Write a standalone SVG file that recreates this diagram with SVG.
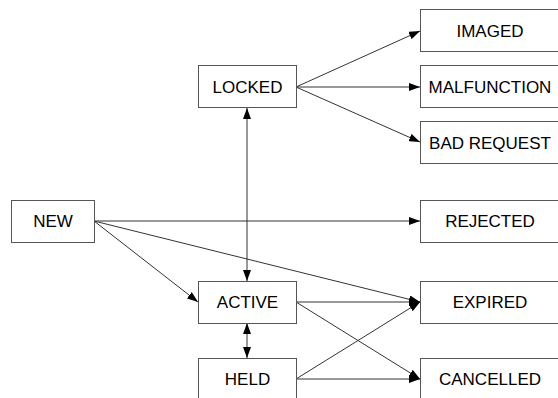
<svg xmlns="http://www.w3.org/2000/svg" width="558" height="398" viewBox="0 0 558 398">
<defs>
<marker id="ah" viewBox="0 0 11 8" refX="11" refY="4" markerWidth="11" markerHeight="8" markerUnits="userSpaceOnUse" orient="auto-start-reverse">
<path d="M0,0 L11,4 L0,8 Z" fill="#000"/>
</marker>
<style>
.box{fill:#fff;stroke:#555;stroke-width:1}
.lbl{font-family:"Liberation Sans",Arial,sans-serif;font-size:17px;fill:#000;text-anchor:middle}
.c{stroke:#333;stroke-width:1;fill:none;marker-end:url(#ah)}
.b{marker-start:url(#ah)}
</style>
</defs>
<rect width="558" height="398" fill="#fff"/>
<g id="connectors">
<line class="c" x1="296" y1="87" x2="420" y2="31"/>
<line class="c" x1="296" y1="87" x2="420" y2="87"/>
<line class="c" x1="296" y1="87" x2="420" y2="142"/>
<line class="c b" x1="247" y1="108" x2="247" y2="281"/>
<line class="c" x1="94" y1="221" x2="420" y2="221"/>
<line class="c" x1="94" y1="221" x2="198" y2="302"/>
<line class="c" x1="94" y1="221" x2="420" y2="302"/>
<line class="c" x1="296" y1="302" x2="420" y2="302"/>
<line class="c" x1="296" y1="302" x2="420" y2="379"/>
<line class="c b" x1="247" y1="323" x2="247" y2="358"/>
<line class="c" x1="296" y1="379" x2="420" y2="302"/>
<line class="c" x1="296" y1="379" x2="420" y2="379"/>
</g>
<g id="LOCKED"><rect class="box" x="198.5" y="65.5" width="98" height="42"/><text class="lbl" x="247.5" y="93">LOCKED</text></g>
<g id="IMAGED"><rect class="box" x="420.5" y="9.5" width="140" height="42"/><text class="lbl" x="490" y="37">IMAGED</text></g>
<g id="MALFUNCTION"><rect class="box" x="420.5" y="65.5" width="140" height="42"/><text class="lbl" x="490" y="93">MALFUNCTION</text></g>
<g id="BAD_REQUEST"><rect class="box" x="420.5" y="121.5" width="140" height="42"/><text class="lbl" x="490" y="149">BAD REQUEST</text></g>
<g id="NEW"><rect class="box" x="11.5" y="200.5" width="83" height="42"/><text class="lbl" x="53" y="227">NEW</text></g>
<g id="REJECTED"><rect class="box" x="420.5" y="200.5" width="140" height="42"/><text class="lbl" x="490" y="227">REJECTED</text></g>
<g id="ACTIVE"><rect class="box" x="198.5" y="281.5" width="98" height="42"/><text class="lbl" x="247.5" y="308">ACTIVE</text></g>
<g id="EXPIRED"><rect class="box" x="420.5" y="281.5" width="140" height="42"/><text class="lbl" x="490" y="308">EXPIRED</text></g>
<g id="HELD"><rect class="box" x="198.5" y="358.5" width="98" height="42"/><text class="lbl" x="247.5" y="385">HELD</text></g>
<g id="CANCELLED"><rect class="box" x="420.5" y="358.5" width="140" height="42"/><text class="lbl" x="490" y="385">CANCELLED</text></g>
</svg>
